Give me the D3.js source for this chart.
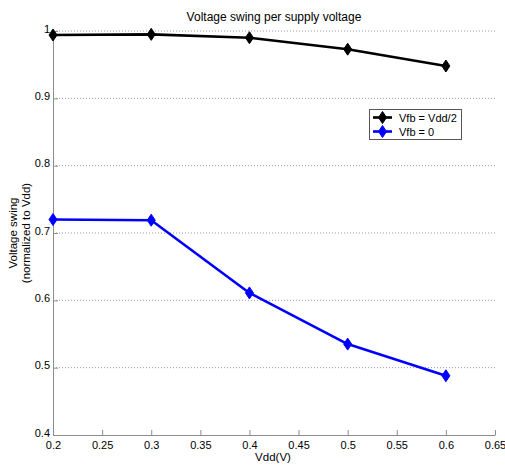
<!DOCTYPE html>
<html><head><meta charset="utf-8">
<script src="https://cdn.jsdelivr.net/npm/d3@7"></script>
<style>body{margin:0;background:#fff}svg{display:block;font-family:Arial,"Liberation Sans",sans-serif}</style>
</head><body><svg id="c" width="505" height="467"></svg>
<script>
const vdd = [0.2, 0.3, 0.4, 0.5, 0.6];
const swingHalf = [0.994, 0.995, 0.990, 0.973, 0.948];
const swingZero = [0.720, 0.719, 0.611, 0.535, 0.488];
const seriesNames = ["Vfb = Vdd/2", "Vfb = 0"];
const seriesColors = ["#000000", "#0000ff"];
const xTicks = [0.2, 0.25, 0.3, 0.35, 0.4, 0.45, 0.5, 0.55, 0.6, 0.65];
const yTicks = [0.4, 0.5, 0.6, 0.7, 0.8, 0.9, 1];

const svg = d3.select("#c");
const x = d3.scaleLinear().domain([0.2, 0.65]).range([53, 495]);
const y = d3.scaleLinear().domain([0.4, 1]).range([435, 31]);
const axisColor = "#8c8c8c";

// grid
svg.append("g").selectAll("line").data(yTicks.filter(d => d > 0.4)).join("line")
  .attr("x1", x(0.2)).attr("x2", x(0.65)).attr("y1", d => y(d)).attr("y2", d => y(d))
  .attr("stroke", "#9a9a9a").attr("stroke-width", 1).attr("stroke-dasharray", "1,2");

// axes
const xAxis = svg.append("g").attr("transform", `translate(0,${y(0.4)})`)
  .call(d3.axisBottom(x).tickValues(xTicks).tickSizeInner(-5).tickSizeOuter(0).tickPadding(8)
    .tickFormat(d => String(+d.toFixed(2))));
const yAxis = svg.append("g").attr("transform", `translate(${x(0.2)},0)`)
  .call(d3.axisLeft(y).tickValues(yTicks).tickSizeInner(-5).tickSizeOuter(0).tickPadding(3)
    .tickFormat(d => String(+d.toFixed(1))));
[xAxis, yAxis].forEach(g => {
  g.select(".domain").attr("stroke", axisColor);
  g.selectAll(".tick line").attr("stroke", axisColor);
  g.selectAll("text").attr("fill", "#000").attr("font-size", 11)
    .attr("font-family", "Arial, 'Liberation Sans', sans-serif");
});
yAxis.selectAll(".tick text").attr("dy", "0.1em");
xAxis.selectAll(".tick text").attr("dy", "0.55em");

// series
const series = [swingHalf, swingZero];
const line = d3.line().x((d, i) => x(vdd[i])).y(d => y(d));
const diamond = "M0,-6L4,0L0,6L-4,0Z";
series.forEach((vals, si) => {
  svg.append("path").datum(vals).attr("d", line).attr("fill", "none")
    .attr("stroke", seriesColors[si]).attr("stroke-width", 2.6).attr("stroke-linejoin", "round");
  svg.append("g").selectAll("path").data(vals).join("path")
    .attr("transform", (d, i) => `translate(${x(vdd[i])},${y(d)})`)
    .attr("d", diamond).attr("fill", seriesColors[si]).attr("stroke", seriesColors[si]).attr("stroke-width", 1);
});

// legend
const lg = svg.append("g");
lg.append("rect").attr("x", 369.5).attr("y", 109.5).attr("width", 92).attr("height", 30)
  .attr("fill", "#fff").attr("stroke", "#555").attr("stroke-width", 1);
seriesNames.forEach((n, i) => {
  const yy = 117.5 + i * 14;
  lg.append("line").attr("x1", 373).attr("x2", 392).attr("y1", yy).attr("y2", yy)
    .attr("stroke", seriesColors[i]).attr("stroke-width", 2.6);
  lg.append("path").attr("transform", `translate(382.5,${yy})`).attr("d", diamond)
    .attr("fill", seriesColors[i]).attr("stroke", seriesColors[i]);
  lg.append("text").attr("x", 399).attr("y", yy + 4).attr("font-size", 11).text(n);
});

// title & labels
svg.append("text").attr("x", 274).attr("y", 21).attr("text-anchor", "middle")
  .attr("font-size", 12).text("Voltage swing per supply voltage");
svg.append("text").attr("x", 273).attr("y", 461).attr("text-anchor", "middle")
  .attr("font-size", 11.5).text("Vdd(V)");
const yl = svg.append("text").attr("transform", "translate(17,233) rotate(-90)")
  .attr("text-anchor", "middle").attr("font-size", 11.5);
yl.append("tspan").attr("x", 0).attr("dy", 0).text("Voltage swing");
yl.append("tspan").attr("x", 0).attr("dy", 13).text("(normalized to Vdd)");
</script></body></html>
